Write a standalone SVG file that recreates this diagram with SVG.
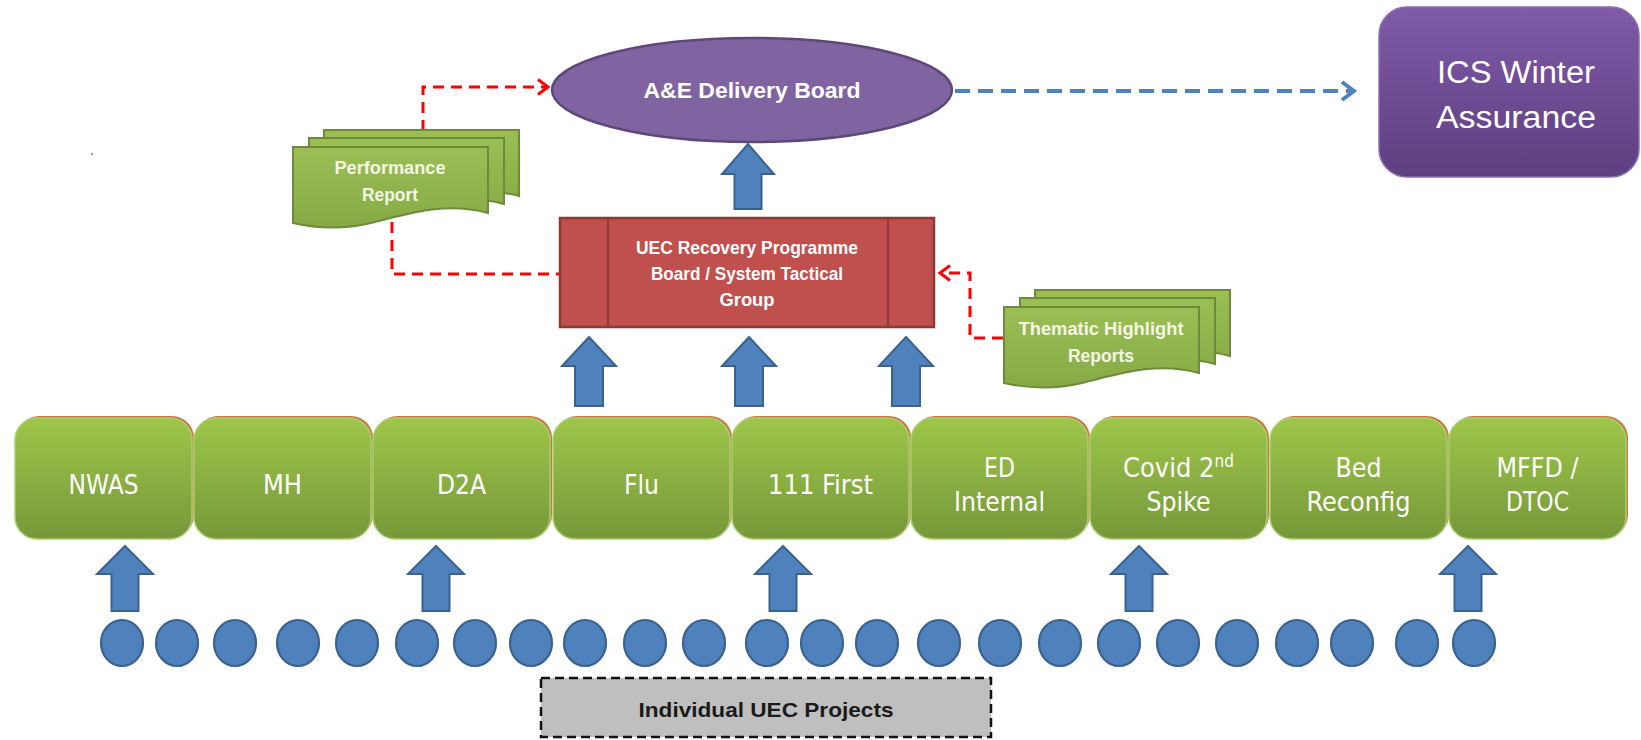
<svg xmlns="http://www.w3.org/2000/svg" width="1641" height="740" viewBox="0 0 1641 740">
<style>
.green{fill:url(#gGreen);stroke:#a9cf70;stroke-width:1.5}
.gshadow{fill:#c87a3e}
.gtext{font-family:"DejaVu Sans Condensed","DejaVu Sans",sans-serif;font-size:27px;fill:#ffffff;text-anchor:middle}
.barrow{fill:#4f81bd;stroke:#3a6291;stroke-width:2;stroke-linejoin:miter}
.dot{fill:#4f81bd;stroke:#3a6291;stroke-width:2.2}
.doc{fill:url(#gDoc);stroke:#6f8a3b;stroke-width:2}
.doctext{font-family:"Liberation Sans",Arial,sans-serif;font-weight:bold;font-size:18px;fill:#f4f7e4;text-anchor:middle}
.btext{font-family:"Liberation Sans",Arial,sans-serif;font-weight:bold;fill:#ffffff;text-anchor:middle}
.reddash{fill:none;stroke:#ff0000;stroke-width:3;stroke-dasharray:11 7}
.bluedash{fill:none;stroke:#4f81bd;stroke-width:4;stroke-dasharray:15 8}
</style>
<defs>
<linearGradient id="gGreen" x1="0" y1="0" x2="0" y2="1">
<stop offset="0" stop-color="#9ec64a"/>
<stop offset="1" stop-color="#76983a"/>
</linearGradient>
<linearGradient id="gDoc" x1="0" y1="0" x2="0" y2="1">
<stop offset="0" stop-color="#9bbf55"/>
<stop offset="1" stop-color="#86aa46"/>
</linearGradient>
<linearGradient id="gPurple" x1="0" y1="0" x2="0" y2="1">
<stop offset="0" stop-color="#7f5aa8"/>
<stop offset="1" stop-color="#5e3f80"/>
</linearGradient>
<path id="docShape" d="M0,0 H195 V66 C150,54 112,68 78,76 C48,83 22,81 0,76 Z"/>
<marker id="redHead" markerWidth="16" markerHeight="18" refX="12" refY="9" orient="auto" markerUnits="userSpaceOnUse">
<path d="M2,1.5 L12,9 L2,16.5" fill="none" stroke="#ff0000" stroke-width="3"/>
</marker>
<marker id="blueHead" markerWidth="18" markerHeight="22" refX="14" refY="11" orient="auto" markerUnits="userSpaceOnUse">
<path d="M2,2 L14,11 L2,20" fill="none" stroke="#4f81bd" stroke-width="4"/>
</marker>
</defs>

<rect width="1641" height="740" fill="#ffffff"/>
<circle cx="92" cy="154" r="1.2" fill="#9a9a9a"/>

<g id="connectors">
<path class="reddash" d="M423,131 V87 H548" marker-end="url(#redHead)"/>
<path class="reddash" d="M392,222 V274 H560"/>
<path class="reddash" d="M1003,338 H970 V273 H940" marker-end="url(#redHead)"/>
<path class="bluedash" d="M955,91 H1354" marker-end="url(#blueHead)"/>
<path class="barrow" d="M748,144 L774,174 L761.5,174 L761.5,209 L734.5,209 L734.5,174 L722,174 Z"/>
<path class="barrow" d="M589,337 L616,366 L603,366 L603,406 L575,406 L575,366 L562,366 Z"/>
<path class="barrow" d="M749,337 L776,366 L763,366 L763,406 L735,406 L735,366 L722,366 Z"/>
<path class="barrow" d="M906,337 L933,366 L920,366 L920,406 L892,406 L892,366 L879,366 Z"/>
<path class="barrow" d="M125,546 L153,574 L138.5,574 L138.5,611 L111.5,611 L111.5,574 L97,574 Z"/>
<path class="barrow" d="M436,546 L464,574 L449.5,574 L449.5,611 L422.5,611 L422.5,574 L408,574 Z"/>
<path class="barrow" d="M783,546 L811,574 L796.5,574 L796.5,611 L769.5,611 L769.5,574 L755,574 Z"/>
<path class="barrow" d="M1139,546 L1167,574 L1152.5,574 L1152.5,611 L1125.5,611 L1125.5,574 L1111,574 Z"/>
<path class="barrow" d="M1468,546 L1496,574 L1481.5,574 L1481.5,611 L1454.5,611 L1454.5,574 L1440,574 Z"/>
</g>

<g id="ae-board">
<ellipse cx="752" cy="90" rx="200" ry="52" fill="#8064a2" stroke="#5d4878" stroke-width="2.5"/>
<text class="btext" x="752" y="98" font-size="22" textLength="217" lengthAdjust="spacingAndGlyphs">A&amp;E Delivery Board</text>
</g>

<g id="ics-winter">
<rect x="1379" y="7" width="260" height="170" rx="28" fill="url(#gPurple)" stroke="#8a6fb0" stroke-width="1.5"/>
<text x="1516" y="83" font-family="'Liberation Sans',Arial,sans-serif" font-size="31" fill="#ffffff" text-anchor="middle" textLength="158" lengthAdjust="spacingAndGlyphs">ICS Winter</text>
<text x="1516" y="128" font-family="'Liberation Sans',Arial,sans-serif" font-size="31" fill="#ffffff" text-anchor="middle" textLength="160" lengthAdjust="spacingAndGlyphs">Assurance</text>
</g>

<g id="performance-report">
<use href="#docShape" class="doc" transform="translate(324,130)"/>
<use href="#docShape" class="doc" transform="translate(309,138)"/>
<use href="#docShape" class="doc" transform="translate(293,147)"/>
<text class="doctext" x="390" y="174" textLength="111" lengthAdjust="spacingAndGlyphs">Performance</text>
<text class="doctext" x="390" y="201" textLength="56" lengthAdjust="spacingAndGlyphs">Report</text>
</g>

<g id="uec-board">
<rect x="560" y="218" width="374" height="109" fill="#c0504d" stroke="#8c3a38" stroke-width="2.5"/>
<line x1="608" y1="219" x2="608" y2="326" stroke="#8c3a38" stroke-width="2"/>
<line x1="888" y1="219" x2="888" y2="326" stroke="#8c3a38" stroke-width="2"/>
<text class="btext" x="747" y="254" font-size="19" textLength="222" lengthAdjust="spacingAndGlyphs">UEC Recovery Programme</text>
<text class="btext" x="747" y="280" font-size="19" textLength="192" lengthAdjust="spacingAndGlyphs">Board / System Tactical</text>
<text class="btext" x="747" y="306" font-size="19" textLength="55" lengthAdjust="spacingAndGlyphs">Group</text>
</g>

<g id="thematic-reports">
<use href="#docShape" class="doc" transform="translate(1035,290)"/>
<use href="#docShape" class="doc" transform="translate(1020,298)"/>
<use href="#docShape" class="doc" transform="translate(1004,307)"/>
<text class="doctext" x="1101" y="335" textLength="165" lengthAdjust="spacingAndGlyphs">Thematic Highlight</text>
<text class="doctext" x="1101" y="362" textLength="66" lengthAdjust="spacingAndGlyphs">Reports</text>
</g>

<g id="box-nwas">
<rect class="gshadow" x="17" y="416" width="177" height="121" rx="22"/>
<rect class="green" x="15" y="418" width="177" height="121" rx="22"/>
<text class="gtext" x="103.5" y="494" textLength="70" lengthAdjust="spacingAndGlyphs">NWAS</text>
</g>
<g id="box-mh">
<rect class="gshadow" x="196" y="416" width="177" height="121" rx="22"/>
<rect class="green" x="194" y="418" width="177" height="121" rx="22"/>
<text class="gtext" x="282.5" y="494" textLength="39" lengthAdjust="spacingAndGlyphs">MH</text>
</g>
<g id="box-d2a">
<rect class="gshadow" x="375" y="416" width="177" height="121" rx="22"/>
<rect class="green" x="373" y="418" width="177" height="121" rx="22"/>
<text class="gtext" x="461.5" y="494" textLength="49" lengthAdjust="spacingAndGlyphs">D2A</text>
</g>
<g id="box-flu">
<rect class="gshadow" x="555" y="416" width="177" height="121" rx="22"/>
<rect class="green" x="553" y="418" width="177" height="121" rx="22"/>
<text class="gtext" x="641.5" y="494" textLength="35" lengthAdjust="spacingAndGlyphs">Flu</text>
</g>
<g id="box-111">
<rect class="gshadow" x="734" y="416" width="177" height="121" rx="22"/>
<rect class="green" x="732" y="418" width="177" height="121" rx="22"/>
<text class="gtext" x="820.5" y="494" textLength="105" lengthAdjust="spacingAndGlyphs">111 First</text>
</g>
<g id="box-ed">
<rect class="gshadow" x="913" y="416" width="177" height="121" rx="22"/>
<rect class="green" x="911" y="418" width="177" height="121" rx="22"/>
<text class="gtext" x="999.5" y="477" textLength="31" lengthAdjust="spacingAndGlyphs">ED</text>
<text class="gtext" x="999.5" y="511" textLength="91" lengthAdjust="spacingAndGlyphs">Internal</text>
</g>
<g id="box-covid">
<rect class="gshadow" x="1092" y="416" width="177" height="121" rx="22"/>
<rect class="green" x="1090" y="418" width="177" height="121" rx="22"/>
<text class="gtext" x="1178.5" y="477">Covid 2<tspan font-size="17" dy="-10">nd</tspan></text>
<text class="gtext" x="1178.5" y="511" textLength="64" lengthAdjust="spacingAndGlyphs">Spike</text>
</g>
<g id="box-bed">
<rect class="gshadow" x="1272" y="416" width="177" height="121" rx="22"/>
<rect class="green" x="1270" y="418" width="177" height="121" rx="22"/>
<text class="gtext" x="1358.5" y="477" textLength="46" lengthAdjust="spacingAndGlyphs">Bed</text>
<text class="gtext" x="1358.5" y="511" textLength="104" lengthAdjust="spacingAndGlyphs">Reconfig</text>
</g>
<g id="box-mffd">
<rect class="gshadow" x="1451" y="416" width="177" height="121" rx="22"/>
<rect class="green" x="1449" y="418" width="177" height="121" rx="22"/>
<text class="gtext" x="1537.5" y="477" textLength="82" lengthAdjust="spacingAndGlyphs">MFFD /</text>
<text class="gtext" x="1537.5" y="511" textLength="63" lengthAdjust="spacingAndGlyphs">DTOC</text>
</g>

<g id="projects">
<ellipse class="dot" cx="122" cy="643" rx="21" ry="23"/>
<ellipse class="dot" cx="177" cy="643" rx="21" ry="23"/>
<ellipse class="dot" cx="235" cy="643" rx="21" ry="23"/>
<ellipse class="dot" cx="298" cy="643" rx="21" ry="23"/>
<ellipse class="dot" cx="357" cy="643" rx="21" ry="23"/>
<ellipse class="dot" cx="417" cy="643" rx="21" ry="23"/>
<ellipse class="dot" cx="475" cy="643" rx="21" ry="23"/>
<ellipse class="dot" cx="531" cy="643" rx="21" ry="23"/>
<ellipse class="dot" cx="585" cy="643" rx="21" ry="23"/>
<ellipse class="dot" cx="645" cy="643" rx="21" ry="23"/>
<ellipse class="dot" cx="704" cy="643" rx="21" ry="23"/>
<ellipse class="dot" cx="767" cy="643" rx="21" ry="23"/>
<ellipse class="dot" cx="822" cy="643" rx="21" ry="23"/>
<ellipse class="dot" cx="877" cy="643" rx="21" ry="23"/>
<ellipse class="dot" cx="939" cy="643" rx="21" ry="23"/>
<ellipse class="dot" cx="1000" cy="643" rx="21" ry="23"/>
<ellipse class="dot" cx="1060" cy="643" rx="21" ry="23"/>
<ellipse class="dot" cx="1119" cy="643" rx="21" ry="23"/>
<ellipse class="dot" cx="1178" cy="643" rx="21" ry="23"/>
<ellipse class="dot" cx="1237" cy="643" rx="21" ry="23"/>
<ellipse class="dot" cx="1297" cy="643" rx="21" ry="23"/>
<ellipse class="dot" cx="1352" cy="643" rx="21" ry="23"/>
<ellipse class="dot" cx="1417" cy="643" rx="21" ry="23"/>
<ellipse class="dot" cx="1474" cy="643" rx="21" ry="23"/>
</g>

<g id="individual-projects">
<rect x="541" y="678" width="450" height="59" fill="#bfbfbf" stroke="#111111" stroke-width="2.5" stroke-dasharray="9 5"/>
<text x="766" y="717" font-family="'Liberation Sans',Arial,sans-serif" font-weight="bold" font-size="21" fill="#1a1a1a" text-anchor="middle" textLength="255" lengthAdjust="spacingAndGlyphs">Individual UEC Projects</text>
</g>
</svg>
